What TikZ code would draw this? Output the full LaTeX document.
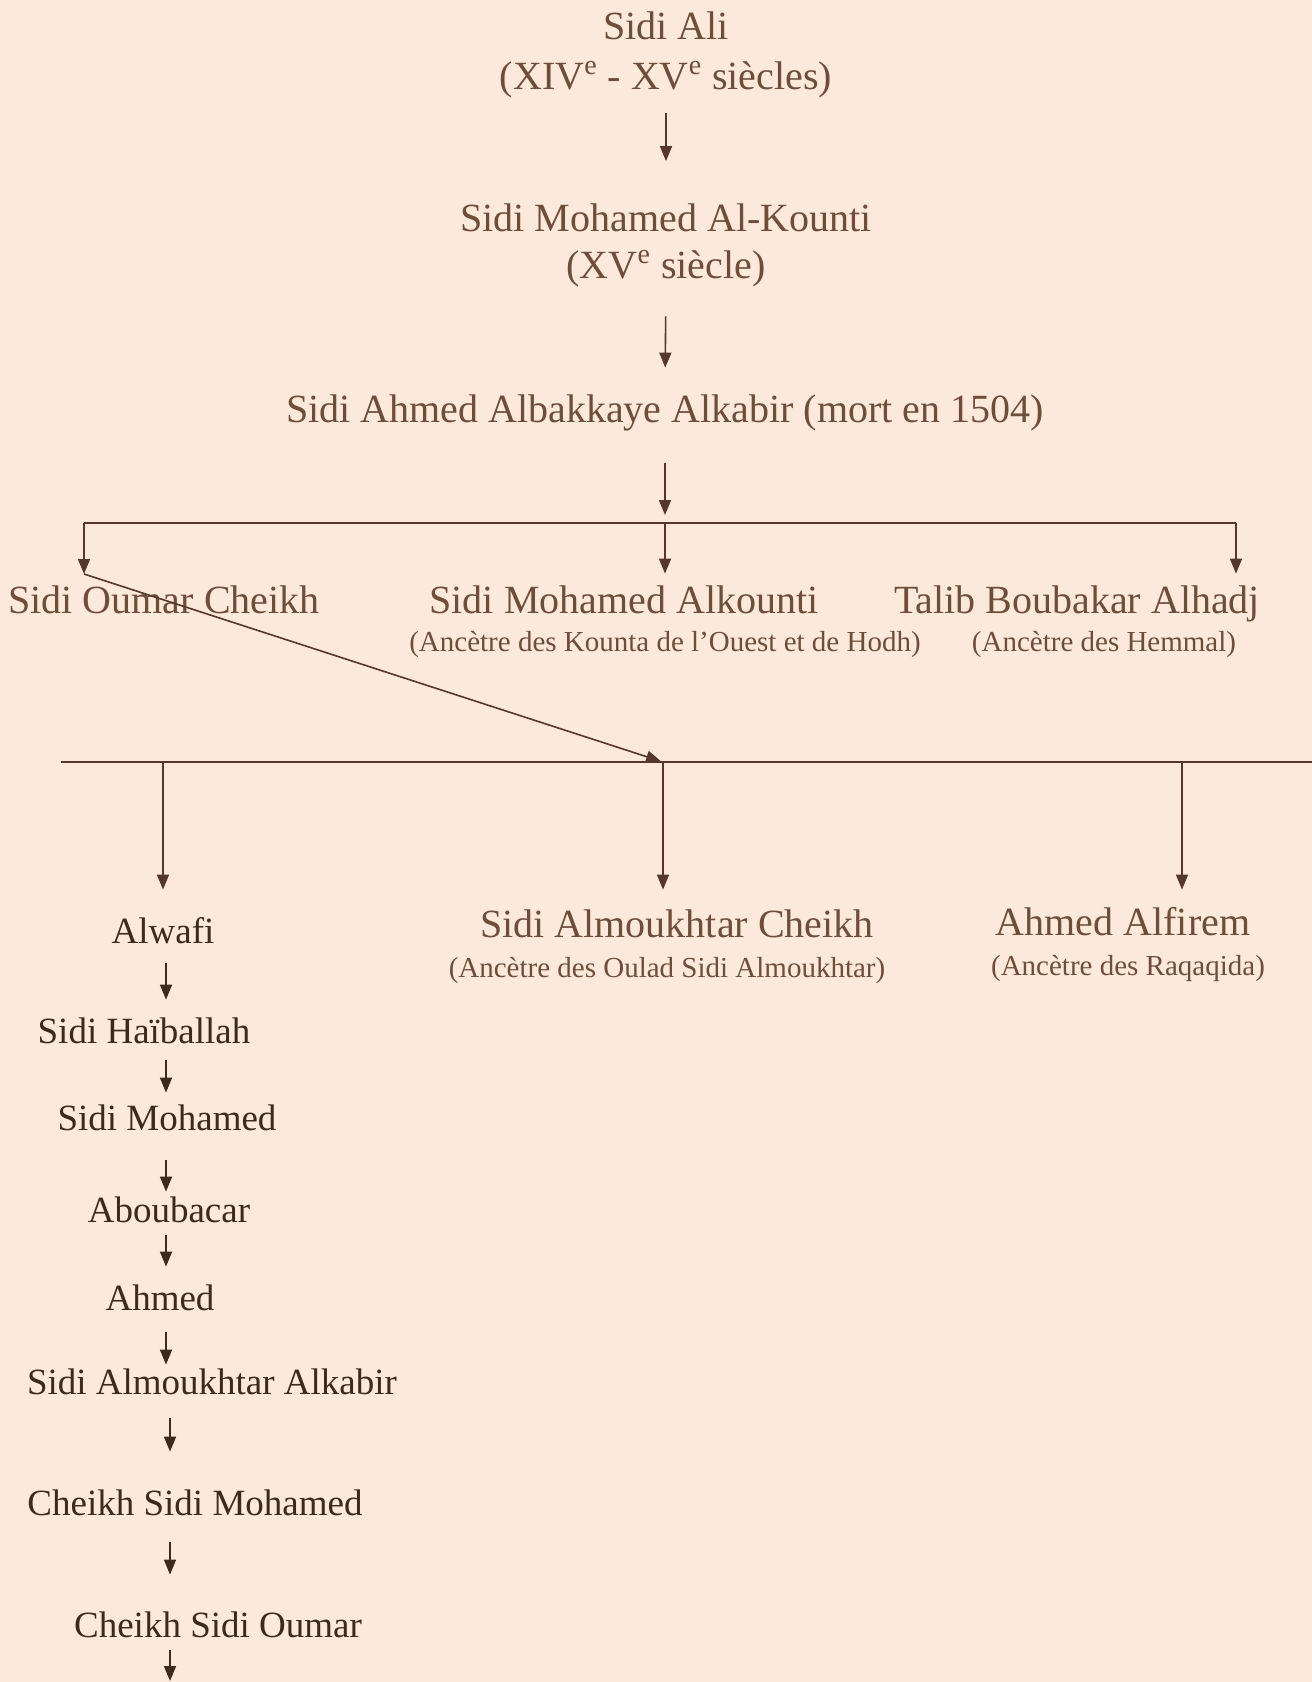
\documentclass[tikz,border=0pt]{standalone}
\usepackage{fontspec}
\setmainfont{Liberation Serif}
\usetikzlibrary{arrows.meta}
\definecolor{paper}{RGB}{252,233,217}
\definecolor{ink}{RGB}{108,78,60}
\definecolor{lineink}{RGB}{84,57,42}
\definecolor{darkink}{RGB}{62,41,29}

\begin{document}
\begin{tikzpicture}[x=0.5pt,y=-0.5pt,
  person/.style={inner sep=0pt, text height=15pt, text depth=2.5pt, text=ink, font=\fontsize{20}{24}\selectfont},
  note/.style={person, text height=11pt, text depth=1.7pt, font=\fontsize{14.5}{17}\selectfont},
  heir/.style={person, text height=14pt, text depth=1.5pt, text=darkink, font=\fontsize{18.5}{22}\selectfont},
  bar/.style={draw=lineink, line width=0.8pt},
  link/.style={bar, -{Triangle[width=6pt,length=7.5pt]}},
  heirlink/.style={link, draw=darkink}]
  \fill[paper] (0,0) rectangle (1312,1682);
  \useasboundingbox (0,0) rectangle (1312,1682);

  % top of the line
  \node[person] (ali) at (666,27) {Sidi Ali};
  \node[person] (ali-d) at (666,77) {(XIV\textsuperscript{e} - XV\textsuperscript{e} siècles)};
  \node[person] (kounti) at (666,219) {Sidi Mohamed Al-Kounti};
  \node[person] (kounti-d) at (666,266) {(XV\textsuperscript{e} siècle)};
  \node[person] (albk) at (665,410) {Sidi Ahmed Albakkaye Alkabir (mort en 1504)};

  \coordinate (b1l) at (84,523);
  \coordinate (b1m) at (665,523);
  \coordinate (b1r) at (1236,523);
  \coordinate (oumtip) at (84,574);

  \draw[link, shorten <=9pt, shorten >=20pt] (ali-d) -- (kounti);
  \draw[link, shorten <=16.25pt, shorten >=12.25pt] (kounti-d.south) -- (albk.north);
  \draw[link, shorten <=17.75pt, shorten >=4pt] (albk.south) -- (b1m);

  % sons of Albakkaye
  \node[person] (soc) at (164,601) {Sidi Oumar Cheikh};
  \node[person] (alk) at (624,601) {Sidi Mohamed Alkounti};
  \node[note] (alk-d) at (665,642) {(Ancètre des Kounta de l’Ouest et de Hodh)};
  \node[person] (tba) at (1077,601) {Talib Boubakar Alhadj};
  \node[note] (tba-d) at (1104,642) {(Ancètre des Hemmal)};

  \draw[bar] (b1l) -- (b1r);
  \draw[link] (b1l) -- (oumtip);
  \draw[link, shorten >=4.75pt] (b1m) -- (b1m |- alk.north);
  \draw[link, shorten >=4.75pt] (b1r) -- (b1r |- tba.north);

  % sons of Sidi Oumar Cheikh
  \coordinate (b2l) at (61,762);
  \coordinate (b2a) at (163,762);
  \coordinate (b2m) at (663,762);
  \coordinate (b2c) at (1182,762);
  \coordinate (b2r) at (1312,762);

  \node[heir] (alwafi) at (163,931) {Alwafi};
  \node[person] (smc) at (677,925) {Sidi Almoukhtar Cheikh};
  \node[note] (smc-d) at (667,968) {(Ancètre des Oulad Sidi Almoukhtar)};
  \node[person] (ahf) at (1123,923) {Ahmed Alfirem};
  \node[note] (ahf-d) at (1128,966) {(Ancètre des Raqaqida)};

  \draw[bar] (b2l) -- (b2r);
  \draw[link, shorten >=1pt] (oumtip) -- (b2m);
  \draw[link, shorten >=12.75pt] (b2a) -- (b2a |- alwafi.north);
  \draw[link, shorten >=8.75pt] (b2m) -- (b2m |- smc.north);
  \draw[link, shorten >=7.75pt] (b2c) -- (b2c |- ahf.north);

  % line of Alwafi
  \node[heir] (haib) at (144,1031) {Sidi Haïballah};
  \node[heir] (smoh) at (167,1118) {Sidi Mohamed};
  \node[heir] (abou) at (169,1210) {Aboubacar};
  \node[heir] (ahm) at (160,1298) {Ahmed};
  \node[heir] (smak) at (212,1382) {Sidi Almoukhtar Alkabir};
  \node[heir] (csm) at (195,1503) {Cheikh Sidi Mohamed};
  \node[heir] (cso) at (218,1625) {Cheikh Sidi Oumar};

  \coordinate (colA) at (166,0);
  \coordinate (colB) at (170,0);
  \coordinate (more) at (170,1681);

  \draw[heirlink, shorten <=8.25pt, shorten >=7.75pt] (alwafi.south -| colA) -- (haib.north -| colA);
  \draw[heirlink, shorten <=6.75pt, shorten >=4.75pt] (haib.south -| colA) -- (smoh.north -| colA);
  \draw[heirlink, shorten <=13.25pt, shorten >=1.25pt] (smoh.south -| colA) -- (abou.north -| colA);
  \draw[heirlink, shorten <=4.75pt, shorten >=7.75pt] (abou.south -| colA) -- (ahm.north -| colA);
  \draw[heirlink, shorten <=9.25pt, shorten >=0.75pt] (ahm.south -| colA) -- (smak.north -| colA);
  \draw[heirlink, shorten <=10.25pt, shorten >=17.75pt] (smak.south -| colB) -- (csm.north -| colB);
  \draw[heirlink, shorten <=11.75pt, shorten >=17.25pt] (csm.south -| colB) -- (cso.north -| colB);
  \draw[heirlink, shorten <=4.75pt] (cso.south -| colB) -- (more);
\end{tikzpicture}
\end{document}
